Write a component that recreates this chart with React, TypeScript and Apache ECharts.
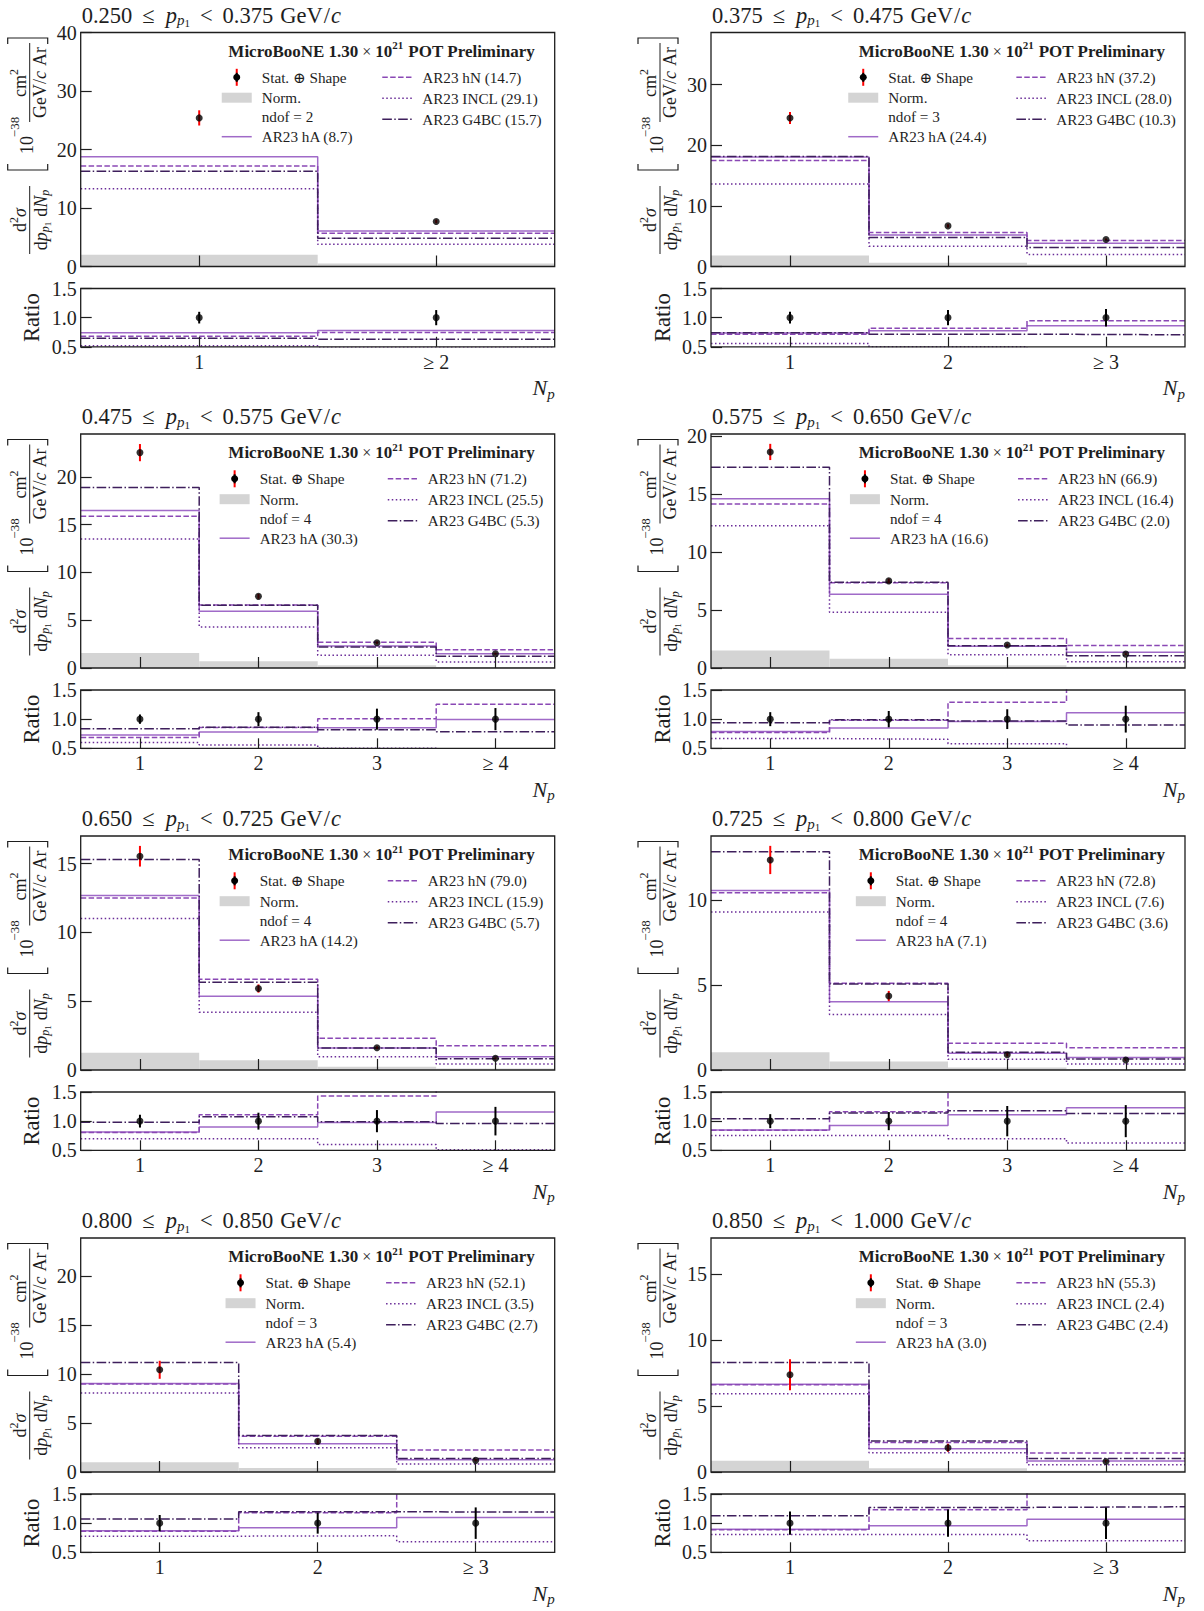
import React, { useEffect, useRef } from 'react';
import * as echarts from 'echarts';

const SERIF = "'Liberation Serif', 'DejaVu Serif', serif";
const INK = '#1e1e1e';

const C_HA = '#a06ac8';
const C_HN = '#8a48b5';
const C_INCL = '#6a2c98';
const C_G4 = '#3e1f5c';
const C_NORM = '#d4d4d4';
const C_ERR = '#ff0000';
const DASH_HN = [5.5, 2.4];
const DASH_INCL = [1.5, 2.5];
const DASH_G4 = [9.6, 2.4, 1.5, 2.4];

// leading-proton momentum slices (GeV/c)
const pLow = ['0.250', '0.375', '0.475', '0.575', '0.650', '0.725', '0.800', '0.850'];
const pHigh = ['0.375', '0.475', '0.575', '0.650', '0.725', '0.800', '0.850', '1.000'];

// proton multiplicity bins per slice
const npLabels = [
  ['1', '≥ 2'],
  ['1', '2', '≥ 3'],
  ['1', '2', '3', '≥ 4'],
  ['1', '2', '3', '≥ 4'],
  ['1', '2', '3', '≥ 4'],
  ['1', '2', '3', '≥ 4'],
  ['1', '2', '≥ 3'],
  ['1', '2', '≥ 3'],
];

const ndof = [2, 3, 4, 4, 4, 4, 3, 3];
const chi2HA = ['8.7', '24.4', '30.3', '16.6', '14.2', '7.1', '5.4', '3.0'];
const chi2HN = ['14.7', '37.2', '71.2', '66.9', '79.0', '72.8', '52.1', '55.3'];
const chi2INCL = ['29.1', '28.0', '25.5', '16.4', '15.9', '7.6', '3.5', '2.4'];
const chi2G4 = ['15.7', '10.3', '5.3', '2.0', '5.7', '3.6', '2.7', '2.4'];

// y-axis extents and tick values of the cross-section panels
const yMax = [40.0, 38.6, 24.5, 20.2, 17.0, 13.76, 23.9, 17.72];
const yTicks = [
  [0, 10, 20, 30, 40],
  [0, 10, 20, 30],
  [0, 5, 10, 15, 20],
  [0, 5, 10, 15, 20],
  [0, 5, 10, 15],
  [0, 5, 10],
  [0, 5, 10, 15, 20],
  [0, 5, 10, 15],
];
const ratioTicks = [0.5, 1.0, 1.5];

// measured cross sections [1e-38 cm^2 / (GeV/c Ar)]
const dataXsec = [
  [25.4, 7.7],
  [24.5, 6.7, 4.46],
  [22.55, 7.5, 2.65, 1.5],
  [18.65, 7.52, 1.98, 1.2],
  [15.53, 5.92, 1.62, 0.85],
  [12.35, 4.35, 0.9, 0.59],
  [10.44, 3.13, 1.19],
  [7.36, 1.84, 0.8],
];
const dataErr = [
  [1.3, 0.3],
  [1.0, 0.25, 0.15],
  [0.9, 0.25, 0.12, 0.1],
  [0.7, 0.2, 0.1, 0.08],
  [0.75, 0.3, 0.1, 0.07],
  [0.83, 0.3, 0.1, 0.06],
  [0.92, 0.25, 0.12],
  [1.17, 0.3, 0.1],
];
const normErr = [
  [2.0, 0.5],
  [1.8, 0.6, 0.33],
  [1.57, 0.7, 0.28, 0.1],
  [1.52, 0.8, 0.23, 0.1],
  [1.26, 0.7, 0.24, 0.1],
  [1.04, 0.5, 0.14, 0.06],
  [0.99, 0.41, 0.17],
  [0.86, 0.28, 0.1],
];

// generator predictions
const predHA = [
  [18.77, 6.05],
  [18.05, 5.2, 3.85],
  [16.5, 5.93, 2.3, 1.5],
  [14.6, 6.37, 1.87, 1.35],
  [12.68, 5.36, 1.6, 0.97],
  [10.55, 4.02, 0.98, 0.73],
  [9.05, 2.89, 1.26],
  [6.65, 1.76, 0.83],
];
const predHN = [
  [17.2, 5.7],
  [17.5, 5.6, 4.3],
  [15.9, 6.6, 2.69, 1.92],
  [14.15, 7.35, 2.55, 1.95],
  [12.5, 6.6, 2.3, 1.76],
  [10.43, 5.1, 1.57, 1.31],
  [8.98, 3.64, 2.24],
  [6.6, 2.24, 1.44],
];
const predINCL = [
  [13.3, 3.8],
  [13.6, 3.36, 2.0],
  [13.5, 4.3, 1.33, 0.63],
  [12.28, 4.82, 1.15, 0.55],
  [11.0, 4.2, 0.97, 0.43],
  [9.29, 3.27, 0.63, 0.35],
  [8.06, 2.48, 0.82],
  [5.92, 1.46, 0.55],
];
const predG4 = [
  [16.3, 4.85],
  [18.16, 4.8, 3.14],
  [18.9, 6.56, 2.2, 1.22],
  [17.33, 7.4, 1.92, 1.06],
  [15.3, 6.38, 1.6, 0.82],
  [12.84, 5.06, 1.04, 0.65],
  [11.19, 3.74, 1.39],
  [8.29, 2.34, 1.03],
];

// prediction / data ratios
const ratioHA = [
  [0.74, 0.78],
  [0.737, 0.774, 0.86],
  [0.726, 0.78, 0.851, 0.994],
  [0.787, 0.85, 0.96, 1.11],
  [0.816, 0.9, 0.977, 1.155],
  [0.85, 0.926, 1.11, 1.23],
  [0.87, 0.92, 1.097],
  [0.897, 0.954, 1.069],
];
const ratioHN = [
  [0.683, 0.746],
  [0.714, 0.82, 0.946],
  [0.686, 0.857, 1.006, 1.254],
  [0.77, 0.98, 1.29, 1.62],
  [0.805, 1.11, 1.43, 2.07],
  [0.845, 1.16, 1.74, 2.2],
  [0.86, 1.18, 1.88],
  [0.886, 1.23, 1.8],
];
const ratioINCL = [
  [0.52, 0.49],
  [0.555, 0.5, 0.45],
  [0.6, 0.557, 0.5, 0.42],
  [0.667, 0.655, 0.58, 0.46],
  [0.7, 0.7, 0.6, 0.51],
  [0.755, 0.755, 0.7, 0.625],
  [0.777, 0.783, 0.68],
  [0.806, 0.806, 0.697],
];
const ratioG4 = [
  [0.645, 0.63],
  [0.741, 0.717, 0.706],
  [0.834, 0.863, 0.817, 0.783],
  [0.937, 0.99, 0.97, 0.9],
  [0.98, 1.075, 0.99, 0.96],
  [1.04, 1.14, 1.18, 1.13],
  [1.07, 1.195, 1.19],
  [1.126, 1.27, 1.28],
];
const ratioDataErr = [
  [0.1, 0.13],
  [0.1, 0.13, 0.15],
  [0.08, 0.12, 0.18, 0.19],
  [0.12, 0.14, 0.17, 0.23],
  [0.11, 0.145, 0.19, 0.245],
  [0.12, 0.155, 0.26, 0.275],
  [0.14, 0.18, 0.27],
  [0.2, 0.235, 0.27],
];

// page layout
const COL_LEFT = [80.7, 711];
const PLOT_W = 474;
const ROW_TOP = [32.5, 434, 836, 1238];
const MAIN_H = 234;
const RATIO_OFF = 256;
const RATIO_H = 58.3;

type Run = { t: string; s: number; b?: boolean; i?: boolean; dy?: number; pad?: number };
let mctx: CanvasRenderingContext2D | null = null;
function cssFont(r: Run) {
  return `${r.i ? 'italic ' : ''}${r.b ? 'bold ' : ''}${r.s}px ${SERIF}`;
}
function textW(r: Run) {
  if (!mctx) mctx = document.createElement('canvas').getContext('2d');
  mctx!.font = cssFont(r);
  return mctx!.measureText(r.t).width;
}
function textRuns(rs: Run[], x: number, y: number, align: 'left' | 'center' | 'right', fill = INK): any[] {
  const total = rs.reduce((a, r) => a + textW(r) + (r.pad || 0), 0);
  let cx = align === 'left' ? x : align === 'center' ? x - total / 2 : x - total;
  const out: any[] = [];
  for (const r of rs) {
    cx += r.pad || 0;
    out.push({
      type: 'text',
      x: cx,
      y: y + (r.dy || 0),
      silent: true,
      style: {
        text: r.t,
        fontFamily: SERIF,
        fontSize: r.s,
        fontWeight: r.b ? 'bold' : 'normal',
        fontStyle: r.i ? 'italic' : 'normal',
        fill,
        align: 'left',
        verticalAlign: 'middle',
        textAlign: 'left',
        textVerticalAlign: 'middle',
      },
    });
    cx += textW(r);
  }
  return out;
}

function stepPoints(vals: number[]) {
  const pts: number[][] = [];
  vals.forEach((v, i) => {
    pts.push([i + 0.5, v]);
    pts.push([i + 1.5, v]);
  });
  return pts;
}

function yTitle(L: number, T: number): any {
  const S = 18;
  const line = (x1: number, x2: number) => ({
    type: 'line',
    silent: true,
    shape: { x1, y1: 0, x2, y2: 0 },
    style: { stroke: INK, lineWidth: 1 },
  });
  const ch: any[] = [];
  ch.push(...textRuns([{ t: 'd', s: S }, { t: '2', s: 12, dy: -6 }, { t: 'σ', s: S, i: true }], -70, -10, 'center'));
  ch.push(line(-104, -36));
  ch.push(
    ...textRuns(
      [
        { t: 'd', s: S },
        { t: 'p', s: S, i: true },
        { t: 'p', s: 12, i: true, dy: 4 },
        { t: '1', s: 9, dy: 7 },
        { t: 'd', s: S, pad: 5 },
        { t: 'N', s: S, i: true },
        { t: 'p', s: 12, i: true, dy: 4 },
      ],
      -70,
      11,
      'center'
    )
  );
  ch.push({
    type: 'polyline',
    silent: true,
    shape: { points: [[-14, -22], [-20, -22], [-20, 18], [-14, 18]] },
    style: { stroke: INK, lineWidth: 1.2 },
  });
  ch.push(...textRuns([{ t: '10', s: S }], 5, -3, 'center'));
  ch.push(...textRuns([{ t: '−38', s: 13 }], 23, -15, 'center'));
  ch.push(...textRuns([{ t: 'cm', s: S }, { t: '2', s: 12, dy: -6 }], 67, -10, 'center'));
  ch.push(line(28, 107));
  ch.push(...textRuns([{ t: 'GeV/', s: S }, { t: 'c', s: S, i: true }, { t: 'Ar', s: S, pad: 5 }], 67.5, 10, 'center'));
  ch.push({
    type: 'polyline',
    silent: true,
    shape: { points: [[106, -22], [112, -22], [112, 18], [106, 18]] },
    style: { stroke: INK, lineWidth: 1.2 },
  });
  return { type: 'group', x: L - 51, y: T + 117.5, rotation: Math.PI / 2, silent: true, children: ch };
}

function legend(p: number, T: number, R: number): any[] {
  const els: any[] = [];
  const cx = R - 173;
  els.push(
    ...textRuns(
      [
        { t: 'MicroBooNE 1.30', s: 17, b: true },
        { t: '×', s: 16, pad: 4 },
        { t: '10', s: 17, b: true, pad: 4 },
        { t: '21', s: 11, b: true, dy: -6 },
        { t: 'POT Preliminary', s: 17, b: true, pad: 5 },
      ],
      cx,
      T + 18.5,
      'center'
    )
  );
  const LS = 15.2;
  const leftT = ['Stat. ⊕ Shape', 'Norm.', `ndof = ${ndof[p]}`, `AR23 hA (${chi2HA[p]})`];
  const rightT = [`AR23 hN (${chi2HN[p]})`, `AR23 INCL (${chi2INCL[p]})`, `AR23 G4BC (${chi2G4[p]})`];
  const wl = Math.max(...leftT.map((t) => textW({ t, s: LS })));
  const wr = Math.max(...rightT.map((t) => textW({ t, s: LS })));
  const HL = 30, HG = 10, CG = 29;
  const W = HL + HG + wl + CG + HL + HG + wr;
  const x0 = cx - W / 2;
  const xt0 = x0 + HL + HG;
  const x1 = xt0 + wl + CG;
  const xt1 = x1 + HL + HG;
  const yl = [44.8, 65.2, 84.2, 104.2].map((d) => T + d);
  const yr = [44.8, 65.8, 86.8].map((d) => T + d);
  leftT.forEach((t, k) => els.push(...textRuns([{ t, s: LS }], xt0, yl[k], 'left')));
  rightT.forEach((t, k) => els.push(...textRuns([{ t, s: LS }], xt1, yr[k], 'left')));
  const mx = x0 + HL / 2;
  els.push({ type: 'line', silent: true, shape: { x1: mx, y1: yl[0] - 8.5, x2: mx, y2: yl[0] + 8.5 }, style: { stroke: C_ERR, lineWidth: 2 } });
  els.push({ type: 'line', silent: true, shape: { x1: mx, y1: yl[0] - 4.5, x2: mx, y2: yl[0] + 4.5 }, style: { stroke: '#000', lineWidth: 2 } });
  els.push({ type: 'circle', silent: true, shape: { cx: mx, cy: yl[0], r: 3.5 }, style: { fill: '#000' } });
  els.push({ type: 'rect', silent: true, shape: { x: x0, y: yl[1] - 5, width: HL, height: 10 }, style: { fill: C_NORM } });
  els.push({ type: 'line', silent: true, shape: { x1: x0, y1: yl[3], x2: x0 + HL, y2: yl[3] }, style: { stroke: C_HA, lineWidth: 1.5 } });
  const dl = (y: number, color: string, dash: number[]) => ({
    type: 'line',
    silent: true,
    shape: { x1: x1, y1: y, x2: x1 + HL, y2: y },
    style: { stroke: color, lineWidth: 1.5, lineDash: dash },
  });
  els.push(dl(yr[0], C_HN, DASH_HN));
  els.push(dl(yr[1], C_INCL, DASH_INCL));
  els.push(dl(yr[2], C_G4, DASH_G4));
  return els;
}

function buildOption() {
  const grid: any[] = [];
  const xAxis: any[] = [];
  const yAxis: any[] = [];
  const series: any[] = [];
  const graphics: any[] = [];

  const tickStyle = { color: INK, width: 1.2 };
  const labelFont = { fontFamily: SERIF, fontSize: 20, color: INK };

  for (let p = 0; p < 8; p++) {
    const r = Math.floor(p / 2);
    const c = p % 2;
    const L = COL_LEFT[c];
    const T = ROW_TOP[r];
    const R = L + PLOT_W;
    const RT = T + RATIO_OFF;
    const RB = RT + RATIO_H;
    const n = dataXsec[p].length;
    const gM = 2 * p;
    const gR = 2 * p + 1;
    const centers = npLabels[p].map((_, i) => i + 1);

    const gridBase = { show: true, z: 10, borderColor: INK, borderWidth: 1.3, backgroundColor: 'transparent', containLabel: false };
    grid.push({ ...gridBase, left: L, top: T, width: PLOT_W, height: MAIN_H });
    grid.push({ ...gridBase, left: L, top: RT, width: PLOT_W, height: RATIO_H });

    xAxis.push({
      type: 'value', gridIndex: gM, min: 0.5, max: n + 0.5, z: 10,
      axisLine: { show: false }, splitLine: { show: false },
      axisTick: { show: true, inside: true, length: 11, customValues: centers, lineStyle: tickStyle },
      axisLabel: { show: false },
    });
    xAxis.push({
      type: 'value', gridIndex: gR, min: 0.5, max: n + 0.5, z: 10,
      axisLine: { show: false }, splitLine: { show: false },
      axisTick: { show: true, inside: true, length: 10, customValues: centers, lineStyle: tickStyle },
      axisLabel: {
        show: true, customValues: centers, margin: 5, ...labelFont,
        formatter: (v: number) => npLabels[p][Math.round(v) - 1] ?? '',
      },
    });
    yAxis.push({
      type: 'value', gridIndex: gM, min: 0, max: yMax[p], z: 10,
      axisLine: { show: false }, splitLine: { show: false },
      axisTick: { show: true, inside: true, length: 11, customValues: yTicks[p], lineStyle: tickStyle },
      axisLabel: { show: true, customValues: yTicks[p], margin: 4, ...labelFont, formatter: (v: number) => String(v) },
    });
    yAxis.push({
      type: 'value', gridIndex: gR, min: 0.5, max: 1.5, z: 10,
      axisLine: { show: false }, splitLine: { show: false },
      axisTick: { show: true, inside: true, length: 11, customValues: ratioTicks, lineStyle: tickStyle },
      axisLabel: { show: true, customValues: ratioTicks, margin: 4, ...labelFont, formatter: (v: number) => v.toFixed(1) },
    });

    const ax = (g: number) => ({ xAxisIndex: g, yAxisIndex: g });

    // normalisation band
    series.push({
      type: 'custom', ...ax(gM), silent: true, z: 1,
      data: normErr[p].map((v, i) => [i + 1, v]),
      renderItem: (_: any, api: any) => {
        const a = api.coord([api.value(0) - 0.5, api.value(1)]);
        const b = api.coord([api.value(0) + 0.5, 0]);
        return { type: 'rect', shape: { x: a[0], y: a[1], width: b[0] - a[0], height: b[1] - a[1] }, style: { fill: C_NORM } };
      },
    });

    const models: [number[][], number[][], string, any][] = [
      [predHA, ratioHA, C_HA, 'solid'],
      [predHN, ratioHN, C_HN, DASH_HN],
      [predINCL, ratioINCL, C_INCL, DASH_INCL],
      [predG4, ratioG4, C_G4, DASH_G4],
    ];
    models.forEach(([pred, ratio, color, dash], k) => {
      series.push({
        type: 'line', ...ax(gM), silent: true, z: 2 + k, symbol: 'none', clip: true,
        data: stepPoints(pred[p]),
        lineStyle: { color, width: 1.5, type: dash },
      });
      series.push({
        type: 'line', ...ax(gR), silent: true, z: 2 + k, symbol: 'none', clip: true,
        data: stepPoints(ratio[p]),
        lineStyle: { color, width: 1.5, type: dash },
      });
    });

    const errBar = (g: number, vals: number[], errs: number[], color: string) => ({
      type: 'custom', ...ax(g), silent: true, z: 8,
      data: vals.map((v, i) => [i + 1, v, errs[i]]),
      renderItem: (_: any, api: any) => {
        const x = api.value(0), y = api.value(1), e = api.value(2);
        const a = api.coord([x, y - e]);
        const b = api.coord([x, y + e]);
        return { type: 'line', shape: { x1: a[0], y1: a[1], x2: b[0], y2: b[1] }, style: { stroke: color, lineWidth: 2 } };
      },
    });
    series.push(errBar(gM, dataXsec[p], dataErr[p], C_ERR));
    series.push({
      type: 'scatter', ...ax(gM), silent: true, z: 9, symbol: 'circle', symbolSize: 7,
      itemStyle: { color: '#000' },
      data: dataXsec[p].map((v, i) => [i + 1, v]),
    });
    const ones = dataXsec[p].map(() => 1);
    series.push(errBar(gR, ones, ratioDataErr[p], '#000'));
    series.push({
      type: 'scatter', ...ax(gR), silent: true, z: 9, symbol: 'circle', symbolSize: 7,
      itemStyle: { color: '#000' },
      data: ones.map((v, i) => [i + 1, v]),
    });

    // panel title
    graphics.push(
      ...textRuns(
        [
          { t: pLow[p], s: 22.5 },
          { t: '≤', s: 22.5, pad: 10 },
          { t: 'p', s: 22.5, i: true, pad: 11 },
          { t: 'p', s: 15, i: true, dy: 5 },
          { t: '1', s: 11, dy: 8 },
          { t: '<', s: 22.5, pad: 10 },
          { t: pHigh[p], s: 22.5, pad: 10 },
          { t: 'GeV', s: 22.5, pad: 7 },
          { t: '/', s: 22.5, pad: 1 },
          { t: 'c', s: 22.5, i: true, pad: 1 },
        ],
        L + 1,
        T - 17.5,
        'left'
      )
    );
    graphics.push(yTitle(L, T));
    graphics.push({
      type: 'text', x: L - 49, y: RT + RATIO_H / 2, rotation: Math.PI / 2, silent: true,
      style: { text: 'Ratio', fontFamily: SERIF, fontSize: 22.5, fill: INK, align: 'center', verticalAlign: 'middle', textAlign: 'center', textVerticalAlign: 'middle' },
    });
    graphics.push(...textRuns([{ t: 'N', s: 22, i: true }, { t: 'p', s: 15, i: true, dy: 6 }], R, RB + 41, 'right'));
    graphics.push(...legend(p, T, R));
  }

  return {
    animation: false,
    backgroundColor: '#ffffff',
    grid,
    xAxis,
    yAxis,
    series,
    graphic: { elements: graphics },
  };
}

export default function App() {
  const ref = useRef<HTMLDivElement>(null);
  useEffect(() => {
    document.body.style.margin = '0';
    document.body.style.overflow = 'hidden';
    const chart = echarts.init(ref.current!, null, { renderer: 'svg' });
    chart.setOption(buildOption() as any);
    return () => chart.dispose();
  }, []);
  return <div ref={ref} style={{ width: 1204, height: 1611 }} />;
}
